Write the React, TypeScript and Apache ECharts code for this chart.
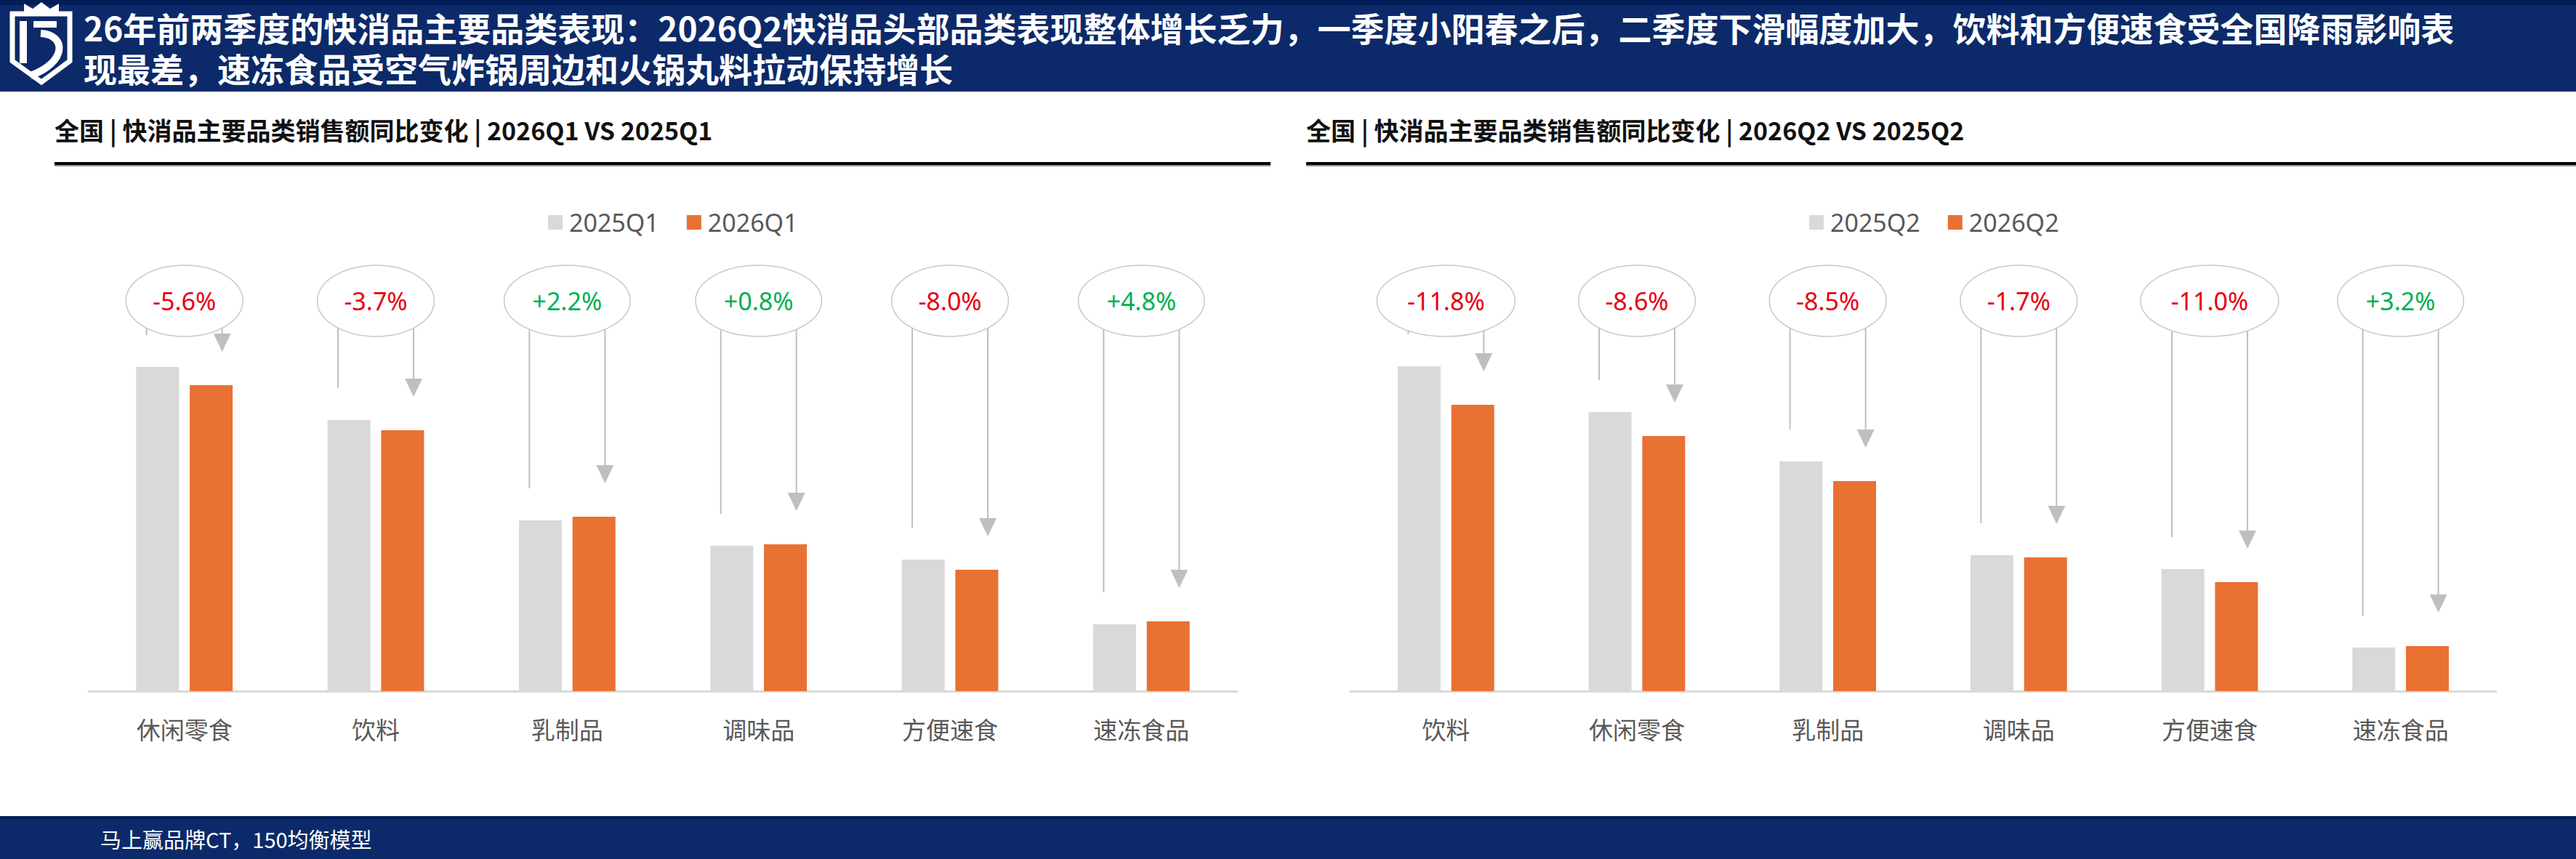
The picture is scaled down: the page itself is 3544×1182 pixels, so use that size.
import React, { useEffect, useRef } from "react";
import * as echarts from "echarts";

// ---------- data ----------
const titleLine1 =
  "26年前两季度的快消品主要品类表现：2026Q2快消品头部品类表现整体增长乏力，一季度小阳春之后，二季度下滑幅度加大，饮料和方便速食受全国降雨影响表";
const titleLine2 = "现最差，速冻食品受空气炸锅周边和火锅丸料拉动保持增长";
const subTitleQ1 = "全国 | 快消品主要品类销售额同比变化 | 2026Q1 VS 2025Q1";
const subTitleQ2 = "全国 | 快消品主要品类销售额同比变化 | 2026Q2 VS 2025Q2";
const footerText = "马上赢品牌CT，150均衡模型";

const categoriesQ1 = ["休闲零食", "饮料", "乳制品", "调味品", "方便速食", "速冻食品"];
const seriesNamesQ1 = ["2025Q1", "2026Q1"];
const sales2025Q1 = [446, 373, 235, 200, 181, 92];
const sales2026Q1 = [421, 359, 240, 202, 167, 96];
const growthQ1 = [-5.6, -3.7, 2.2, 0.8, -8.0, 4.8];

const categoriesQ2 = ["饮料", "休闲零食", "乳制品", "调味品", "方便速食", "速冻食品"];
const seriesNamesQ2 = ["2025Q2", "2026Q2"];
const sales2025Q2 = [447, 384, 316, 187, 168, 60];
const sales2026Q2 = [394, 351, 289, 184, 150, 62];
const growthQ2 = [-11.8, -8.6, -8.5, -1.7, -11.0, 3.2];

// ---------- styles ----------
const W = 3544;
const H = 1182;
const NAVY = "#0c2a69";
const NAVY_DARK = "#021d58";
const GRAY_BAR = "#d9d9d9";
const ORANGE = "#e97132";
const RED = "#e60012";
const GREEN = "#00b050";
const LINE_GRAY = "#bfbfbf";
const TEXT_GRAY = "#595959";
const CJK = "'Noto Sans CJK SC', 'Noto Sans', sans-serif";
const LATIN = "'Noto Sans', 'Noto Sans CJK SC', sans-serif";
const PCT_FONT = "34px " + LATIN;

let measureCtx: CanvasRenderingContext2D | null = null;
function textWidth(s: string, font: string): number {
  if (!measureCtx && typeof document !== "undefined") {
    measureCtx = document.createElement("canvas").getContext("2d");
  }
  if (!measureCtx) return s.length * 18;
  measureCtx.font = font;
  return measureCtx.measureText(s).width;
}

function fmtGrowth(v: number): string {
  return (v > 0 ? "+" : "") + v.toFixed(1) + "%";
}

function makeRenderItem(growth: number[]) {
  return (params: any, api: any) => {
    const idx = api.value(0);
    const gv = api.value(1);
    const ov = api.value(2);
    const cx = api.coord([idx, 0])[0];
    const grayTop = api.coord([idx, gv])[1];
    const orangeTop = api.coord([idx, ov])[1];
    const g = growth[params.dataIndex];
    const label = fmtGrowth(g);
    const w = textWidth(label, PCT_FONT);
    const rx = 81 + 0.75 * (w - 88);
    const ry = 49;
    const cy = 414;
    const off = 52;
    const edgeY = cy + ry * Math.sqrt(Math.max(0, 1 - (off / rx) * (off / rx)));
    const leftEnd = grayTop - 44;
    const tip = orangeTop - 46;
    const color = g >= 0 ? GREEN : RED;
    return {
      type: "group",
      children: [
        {
          type: "line",
          shape: { x1: cx - off, y1: edgeY, x2: cx - off, y2: leftEnd },
          style: { stroke: LINE_GRAY, lineWidth: 2 },
        },
        {
          type: "line",
          shape: { x1: cx + off, y1: edgeY, x2: cx + off, y2: tip - 20 },
          style: { stroke: LINE_GRAY, lineWidth: 2 },
        },
        {
          type: "polygon",
          shape: {
            points: [
              [cx + off - 12, tip - 25],
              [cx + off + 12, tip - 25],
              [cx + off, tip],
            ],
          },
          style: { fill: LINE_GRAY },
        },
        {
          type: "ellipse",
          shape: { cx, cy, rx, ry },
          style: { fill: "#ffffff", stroke: "#c8c8c8", lineWidth: 1.5 },
        },
        {
          type: "text",
          style: {
            text: label,
            x: cx,
            y: cy,
            fill: color,
            font: PCT_FONT,
            align: "center",
            verticalAlign: "middle",
          },
        },
      ],
    };
  };
}

function buildOption() {
  const grids = [
    { left: 122, top: 451, width: 1580, height: 500 },
    { left: 1858, top: 451, width: 1576, height: 500 },
  ];
  const xAxisBase = (gridIndex: number, data: string[]) => ({
    type: "category",
    gridIndex,
    data,
    axisTick: { show: false },
    axisLine: { lineStyle: { color: GRAY_BAR, width: 3 } },
    axisLabel: { fontSize: 33, color: TEXT_GRAY, margin: 35, fontFamily: CJK },
    splitLine: { show: false },
  });
  const yAxisBase = (gridIndex: number) => ({
    type: "value",
    gridIndex,
    min: 0,
    max: 500,
    show: false,
  });
  const legendBase = (left: number, data: string[]) => ({
    data,
    left,
    top: 281,
    itemWidth: 20,
    itemHeight: 20,
    itemGap: 38,
    icon: "rect",
    selectedMode: false,
    textStyle: {
      fontSize: 34,
      color: TEXT_GRAY,
      fontFamily: LATIN,
      lineHeight: 40,
      padding: [0, 0, 0, 4],
    },
  });
  const bar = (name: string, data: number[], color: string, axis: number) => ({
    name,
    type: "bar",
    xAxisIndex: axis,
    yAxisIndex: axis,
    data,
    barWidth: 59,
    barGap: "25%",
    itemStyle: { color },
    silent: true,
  });
  const annot = (
    name: string,
    g25: number[],
    g26: number[],
    growth: number[],
    axis: number
  ) => ({
    name,
    type: "custom",
    xAxisIndex: axis,
    yAxisIndex: axis,
    clip: false,
    silent: true,
    z: 5,
    encode: { x: 0, y: [1, 2] },
    data: g25.map((v, i) => [i, v, g26[i]]),
    renderItem: makeRenderItem(growth),
  });

  const graphic: any[] = [
    // header
    { type: "rect", shape: { x: 0, y: 0, width: W, height: 126 }, style: { fill: NAVY } },
    { type: "rect", shape: { x: 0, y: 0, width: W, height: 7 }, style: { fill: NAVY_DARK } },
    {
      type: "text",
      x: 115,
      y: 9,
      style: {
        text: titleLine1 + "\n" + titleLine2,
        fill: "#ffffff",
        font: "bold 46px " + CJK,
        lineHeight: 56,
        align: "left",
        verticalAlign: "top",
      },
    },
    // logo
    {
      type: "polygon",
      shape: {
        points: [
          [17, 19],
          [96, 19],
          [96, 84],
          [57, 113],
          [17, 84],
        ],
      },
      style: { fill: "transparent", stroke: "#ffffff", lineWidth: 7, lineJoin: "miter" },
    },
    {
      type: "polygon",
      shape: {
        points: [
          [33, 19],
          [33, 5],
          [45, 12],
          [57, 3],
          [69, 12],
          [81, 5],
          [81, 19],
        ],
      },
      style: { fill: "#ffffff" },
    },
    { type: "rect", shape: { x: 27, y: 29, width: 10, height: 58 }, style: { fill: "#ffffff" } },
    { type: "rect", shape: { x: 46, y: 29, width: 32, height: 9 }, style: { fill: "#ffffff" } },
    {
      type: "bezierCurve",
      shape: { x1: 56, y1: 46, cpx1: 92, cpy1: 48, cpx2: 92, cpy2: 86, x2: 42, y2: 104 },
      style: { fill: "transparent", stroke: "#ffffff", lineWidth: 10 },
    },
    // sub titles
    {
      type: "text",
      x: 75,
      y: 178,
      style: {
        text: subTitleQ1,
        fill: "#111111",
        font: "bold 34px " + CJK,
        align: "left",
        verticalAlign: "middle",
      },
    },
    {
      type: "text",
      x: 1797,
      y: 178,
      style: {
        text: subTitleQ2,
        fill: "#111111",
        font: "bold 34px " + CJK,
        align: "left",
        verticalAlign: "middle",
      },
    },
    { type: "rect", shape: { x: 75, y: 223, width: 1673, height: 4 }, style: { fill: "#000000" } },
    { type: "rect", shape: { x: 75, y: 227, width: 1673, height: 2 }, style: { fill: "#9a9a9a" } },
    { type: "rect", shape: { x: 1797, y: 223, width: W - 1797, height: 4 }, style: { fill: "#000000" } },
    { type: "rect", shape: { x: 1797, y: 227, width: W - 1797, height: 2 }, style: { fill: "#9a9a9a" } },
    // footer
    { type: "rect", shape: { x: 0, y: 1123, width: W, height: H - 1123 }, style: { fill: NAVY } },
    { type: "rect", shape: { x: 0, y: 1123, width: W, height: 4 }, style: { fill: NAVY_DARK } },
    {
      type: "text",
      x: 138,
      y: 1154,
      style: {
        text: footerText,
        fill: "#ffffff",
        font: "29px " + CJK,
        align: "left",
        verticalAlign: "middle",
      },
    },
  ];

  return {
    animation: false,
    backgroundColor: "#ffffff",
    grid: grids,
    xAxis: [xAxisBase(0, categoriesQ1), xAxisBase(1, categoriesQ2)],
    yAxis: [yAxisBase(0), yAxisBase(1)],
    legend: [legendBase(749, seriesNamesQ1), legendBase(2484, seriesNamesQ2)],
    graphic,
    series: [
      bar(seriesNamesQ1[0], sales2025Q1, GRAY_BAR, 0),
      bar(seriesNamesQ1[1], sales2026Q1, ORANGE, 0),
      annot("annotQ1", sales2025Q1, sales2026Q1, growthQ1, 0),
      bar(seriesNamesQ2[0], sales2025Q2, GRAY_BAR, 1),
      bar(seriesNamesQ2[1], sales2026Q2, ORANGE, 1),
      annot("annotQ2", sales2025Q2, sales2026Q2, growthQ2, 1),
    ],
  };
}

export default function App() {
  const ref = useRef<HTMLDivElement | null>(null);
  useEffect(() => {
    document.body.style.margin = "0";
    if (!ref.current) return;
    const chart = echarts.init(ref.current, undefined, { renderer: "svg", width: W, height: H });
    chart.setOption(buildOption() as any);
    return () => {
      chart.dispose();
    };
  }, []);
  return (
    <div
      ref={ref}
      style={{ position: "absolute", left: 0, top: 0, width: W, height: H, background: "#fff" }}
    />
  );
}
